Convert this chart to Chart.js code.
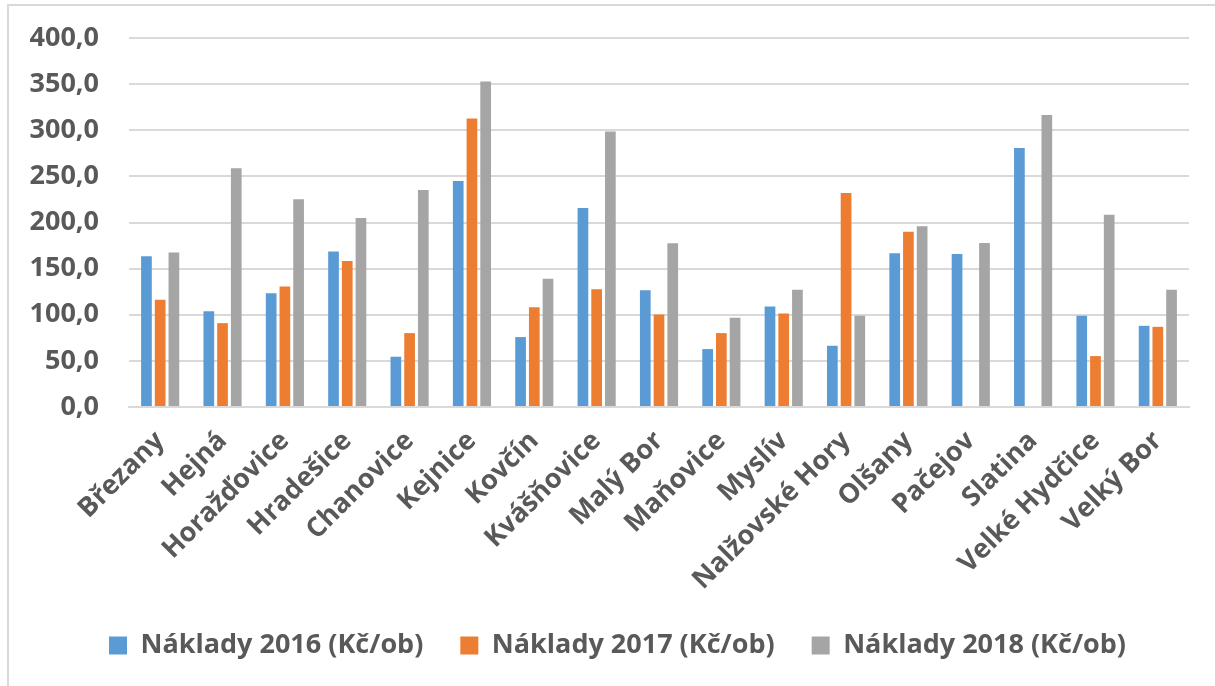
<!DOCTYPE html>
<html>
<head>
<meta charset="utf-8">
<script src="https://cdn.jsdelivr.net/npm/chart.js@4.4.1/dist/chart.umd.min.js"></script>
<style>
  html, body { margin: 0; padding: 0; background: #fff; overflow: hidden; }
  #frame { position: absolute; left: 7px; top: 4px; width: 1400px; height: 900px; border: 2px solid #d9d9d9; }
  #wrap { position: absolute; left: 0; top: 0; width: 1215px; height: 686px; }
</style>
</head>
<body>
<div id="frame"></div>
<div id="wrap"><canvas id="resultChart"></canvas></div>
<script>
const categories = ['Březany', 'Hejná', 'Horažďovice', 'Hradešice', 'Chanovice', 'Kejnice', 'Kovčín',
  'Kvášňovice', 'Malý Bor', 'Maňovice', 'Myslív', 'Nalžovské Hory', 'Olšany', 'Pačejov', 'Slatina',
  'Velké Hydčice', 'Velký Bor'];
const costs2016 = [163.4, 103.9, 123.4, 168.5, 54.5, 245.0, 75.8, 215.7, 126.6, 62.8, 108.9, 66.4, 166.7, 165.9, 280.7, 98.8, 88.0];
const costs2017 = [116.2, 90.9, 130.6, 158.4, 80.1, 312.8, 108.2, 127.7, 100.3, 80.1, 101.4, 232.0, 190.1, null, null, 55.2, 86.9];
const costs2018 = [167.4, 258.7, 225.1, 204.9, 235.2, 352.8, 138.9, 298.7, 177.5, 96.7, 127.0, 98.8, 195.9, 177.8, 316.4, 208.5, 127.0];
const seriesLabels = ['Náklady 2016 (Kč/ob)', 'Náklady 2017 (Kč/ob)', 'Náklady 2018 (Kč/ob)'];
const seriesColors = ['#5B9BD5', '#ED7D31', '#A5A5A5'];
const yTicks = [0, 50, 100, 150, 200, 250, 300, 350, 400];

const textColor = '#595959';
const fontFamily = '"Open Sans", Lato, sans-serif';

function makeDataset(i, values) {
  return {
    label: seriesLabels[i],
    data: values,
    backgroundColor: seriesColors[i],
    borderWidth: 0,
    categoryPercentage: 0.66,
    barPercentage: 0.78
  };
}

// legend sits a bit right of the canvas centre in the original
const legendShift = {
  id: 'legendShift',
  afterLayout(chart) {
    chart.legend.left += 13;
    chart.legend.right += 13;
  }
};

var ctx = document.getElementById('resultChart').getContext('2d');
var chart = new Chart(ctx, {
  type: 'bar',
  data: {
    labels: categories,
    datasets: [
      makeDataset(0, costs2016),
      makeDataset(1, costs2017),
      makeDataset(2, costs2018)
    ]
  },
  plugins: [legendShift],
  options: {
    responsive: true,
    maintainAspectRatio: false,
    animation: false,
    layout: {
      padding: { left: 20, right: 26, top: 38, bottom: 17 }
    },
    plugins: {
      legend: {
        display: true,
        position: 'bottom',
        labels: {
          color: textColor,
          font: { family: fontFamily, size: 27, weight: 'bold' },
          boxWidth: 18,
          boxHeight: 18,
          padding: 37
        }
      },
      tooltip: { enabled: false }
    },
    scales: {
      x: {
        grid: { display: false },
        border: { display: true, color: '#d9d9d9', width: 2 },
        ticks: {
          color: textColor,
          font: { family: fontFamily, size: 27, weight: 'bold' },
          autoSkip: false,
          maxRotation: 45,
          minRotation: 45,
          padding: 10
        },
        afterFit: function(scale) { scale.height = 188; }
      },
      y: {
        min: 0,
        max: 400,
        afterBuildTicks: function(scale) {
          scale.ticks = yTicks.map(v => ({ value: v }));
        },
        grid: { color: '#d9d9d9', lineWidth: 2, drawTicks: false },
        border: { display: false },
        ticks: {
          color: textColor,
          font: { family: fontFamily, size: 27, weight: 'bold' },
          padding: 30,
          callback: function(value) { return value.toFixed(1).replace('.', ','); }
        },
        afterFit: function(scale) {
          scale.width = 109;
          scale.paddingTop = 0;
          scale.paddingBottom = 0;
        }
      }
    }
  }
});
</script>
</body>
</html>
